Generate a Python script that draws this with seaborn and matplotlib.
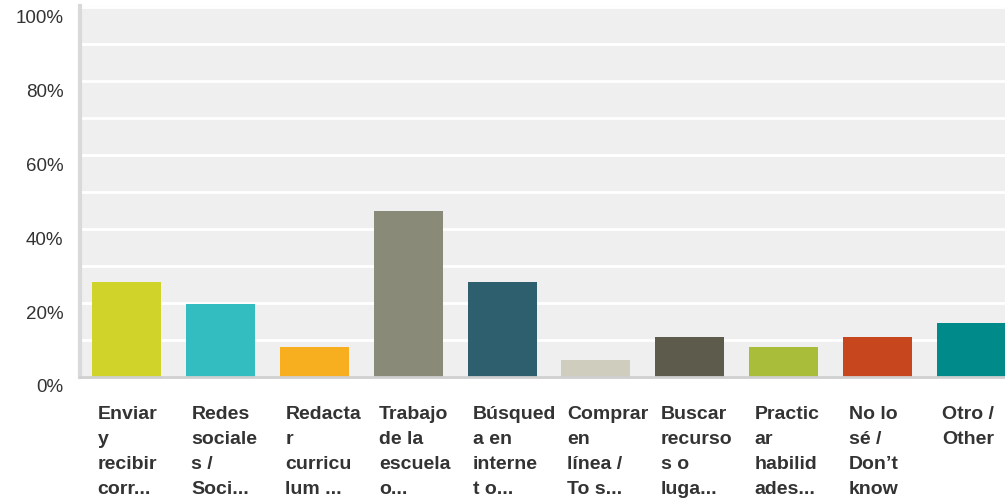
import numpy as np
import pandas as pd
import matplotlib
matplotlib.use("Agg")
import matplotlib.pyplot as plt
import matplotlib.transforms as mtrans
import seaborn as sns

# values
labels = [
    "Enviar\ny\nrecibir\ncorr...",
    "Redes\nsociale\ns /\nSoci...",
    "Redacta\nr\ncurricu\nlum ...",
    "Trabajo\nde la\nescuela\no...",
    "Búsqued\na en\ninterne\nt o...",
    "Comprar\nen\nlínea /\nTo s...",
    "Buscar\nrecurso\ns o\nluga...",
    "Practic\nar\nhabilid\nades...",
    "No lo\nsé /\nDon’t\nknow",
    "Otro /\nOther",
]
percent = [25.7, 19.7, 8.1, 44.9, 25.7, 4.6, 10.8, 8.1, 10.8, 14.6]
colors = ["#d0d42a", "#33bdc0", "#f7ae1f", "#8a8a78", "#2e5f6e",
          "#cfcdbd", "#5c5b4c", "#a9bd3a", "#c7461d", "#008a8a"]
yticks = [0, 20, 40, 60, 80, 100]

df = pd.DataFrame({"cat": labels, "pct": percent})

sns.set_style("white")
plt.rcParams['font.family'] = ['Liberation Sans', 'DejaVu Sans']

W, H = 1005, 501
fig = plt.figure(figsize=(W / 100, H / 100), dpi=100)
ax = fig.add_axes([80 / W, 1 - 377 / H, (W - 80) / W, (377 - 6) / H])
ax.set_facecolor("#efefef")

sns.barplot(data=df, x="cat", y="pct", hue="cat", palette=colors,
            legend=False, width=0.735, ax=ax, saturation=1, zorder=3,
            linewidth=0, edgecolor="none")

ax.set_ylim(0, 100.3)
ax.set_xlim(-0.495, 9.357)
ax.set_yticks(np.arange(0, 101, 10), minor=True)
ax.set_yticks(yticks)
ax.set_yticklabels([f"{v}%" for v in yticks], fontsize=13.5, color="#333333")
ax.grid(axis="y", which="both", color="white", linewidth=2, zorder=1)
ax.set_axisbelow(True)
ax.tick_params(axis="y", which="both", length=0, pad=12)
ax.tick_params(axis="x", length=0, pad=21)

off = mtrans.ScaledTranslation(0, -9 / 100, fig.dpi_scale_trans)
for t in ax.get_yticklabels():
    t.set_transform(t.get_transform() + off)

ax.set_xticks(range(len(labels)))
ax.set_xticklabels(labels, fontsize=14, fontweight="bold", color="#333333",
                   ha="left", va="top", linespacing=1.6)
offx = mtrans.ScaledTranslation(-29 / 100, 0, fig.dpi_scale_trans)
for t in ax.get_xticklabels():
    t.set_transform(t.get_transform() + offx)

ax.set_xlabel("")
ax.set_ylabel("")
for s in ["top", "right"]:
    ax.spines[s].set_visible(False)
ax.spines["left"].set_color("#d9d9d9")
ax.spines["left"].set_linewidth(3)
ax.spines["bottom"].set_color("#cfcfcf")
ax.spines["bottom"].set_linewidth(2)
ax.spines["bottom"].set_zorder(4)

fig.savefig("out.png", dpi=100)
